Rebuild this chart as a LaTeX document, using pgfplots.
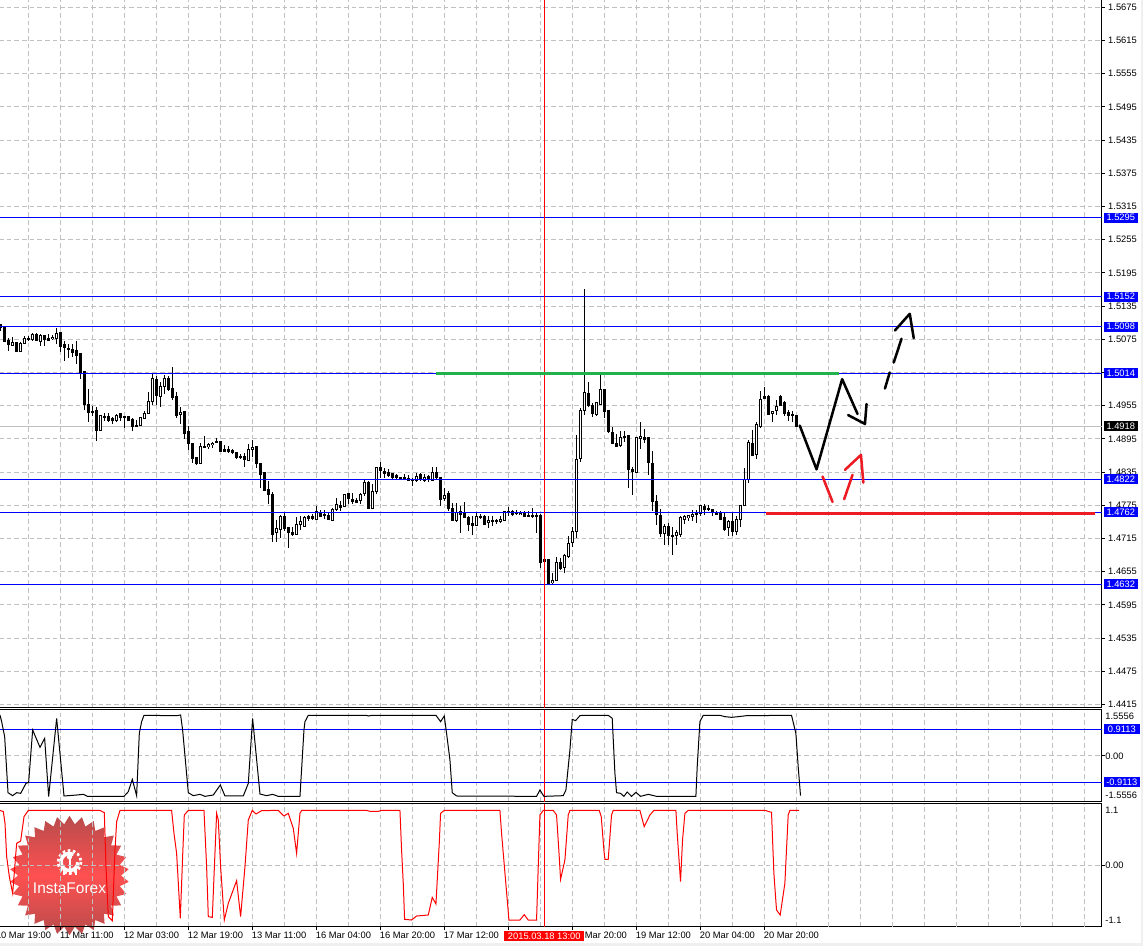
\documentclass[border=0pt]{standalone}
\usepackage{fontspec}
\setmainfont{Liberation Sans}
\usepackage{pgfplots}
\usepackage{pgfplotstable}
\usetikzlibrary{shapes.geometric}
\pgfplotsset{compat=1.18}

\definecolor{gridc}{HTML}{C0C0C0}
\definecolor{handred}{HTML}{ED1C24}
\definecolor{handgreen}{HTML}{22B14C}
\definecolor{starmid}{HTML}{FF5050}
\definecolor{stardark}{HTML}{B84C4C}

% k open high low close, price panel
\pgfplotstableread{
k o h l c
0 1.5101 1.5102 1.5090 1.5097
1 1.5097 1.5099 1.5071 1.5071
2 1.5073 1.5077 1.5053 1.5066
4 1.5069 1.5070 1.5053 1.5053
9 1.5084 1.5087 1.5071 1.5073
11 1.5081 1.5083 1.5062 1.5075
12 1.5076 1.5084 1.5071 1.5073
15 1.5087 1.5087 1.5052 1.5062
16 1.5065 1.5071 1.5035 1.5061
17 1.5059 1.5067 1.5042 1.5057
18 1.5056 1.5067 1.5043 1.5052
19 1.5055 1.5071 1.5030 1.5046
20 1.5049 1.5049 1.5004 1.5014
21 1.5016 1.5016 1.4948 1.4957
22 1.4958 1.4985 1.4926 1.4943
23 1.4945 1.4954 1.4937 1.4943
24 1.4946 1.4953 1.4892 1.4911
26 1.4935 1.4942 1.4928 1.4934
27 1.4935 1.4942 1.4926 1.4928
28 1.4931 1.4935 1.4922 1.4929
30 1.4940 1.4940 1.4928 1.4934
31 1.4935 1.4935 1.4915 1.4933
32 1.4935 1.4935 1.4928 1.4928
33 1.4931 1.4932 1.4910 1.4917
34 1.4920 1.4930 1.4917 1.4917
39 1.5003 1.5009 1.4957 1.4974
42 1.5004 1.5008 1.4981 1.4984
43 1.4986 1.5025 1.4965 1.4969
44 1.4972 1.4979 1.4932 1.4938
46 1.4944 1.4945 1.4894 1.4904
47 1.4908 1.4919 1.4875 1.4886
48 1.4886 1.4886 1.4851 1.4859
49 1.4862 1.4863 1.4848 1.4850
51 1.4882 1.4900 1.4879 1.4879
54 1.4891 1.4897 1.4888 1.4888
55 1.4891 1.4891 1.4873 1.4873
56 1.4876 1.4884 1.4871 1.4873
57 1.4876 1.4882 1.4869 1.4872
58 1.4874 1.4876 1.4868 1.4870
59 1.4870 1.4871 1.4859 1.4861
60 1.4864 1.4868 1.4859 1.4861
61 1.4864 1.4869 1.4845 1.4857
64 1.4881 1.4881 1.4843 1.4851
65 1.4851 1.4851 1.4807 1.4830
66 1.4834 1.4834 1.4800 1.4801
67 1.4803 1.4818 1.4777 1.4794
68 1.4794 1.4799 1.4709 1.4723
71 1.4755 1.4762 1.4729 1.4734
72 1.4735 1.4736 1.4698 1.4725
73 1.4726 1.4736 1.4720 1.4722
77 1.4755 1.4757 1.4747 1.4751
78 1.4755 1.4759 1.4748 1.4752
80 1.4761 1.4767 1.4754 1.4755
81 1.4759 1.4767 1.4751 1.4756
82 1.4757 1.4762 1.4750 1.4750
85 1.4774 1.4783 1.4764 1.4771
87 1.4796 1.4797 1.4777 1.4787
88 1.4786 1.4797 1.4778 1.4781
89 1.4784 1.4789 1.4779 1.4781
92 1.4816 1.4818 1.4769 1.4769
95 1.4844 1.4854 1.4825 1.4838
96 1.4837 1.4842 1.4825 1.4832
97 1.4835 1.4841 1.4826 1.4829
98 1.4832 1.4834 1.4822 1.4826
99 1.4829 1.4832 1.4822 1.4825
100 1.4825 1.4826 1.4821 1.4822
101 1.4826 1.4831 1.4821 1.4822
102 1.4824 1.4829 1.4819 1.4820
103 1.4822 1.4824 1.4810 1.4820
105 1.4830 1.4833 1.4819 1.4822
107 1.4827 1.4830 1.4817 1.4822
109 1.4835 1.4844 1.4820 1.4825
110 1.4825 1.4826 1.4773 1.4785
112 1.4796 1.4800 1.4764 1.4769
113 1.4770 1.4779 1.4748 1.4748
115 1.4764 1.4774 1.4725 1.4759
116 1.4762 1.4781 1.4752 1.4752
117 1.4753 1.4755 1.4729 1.4740
118 1.4743 1.4755 1.4721 1.4739
120 1.4754 1.4759 1.4750 1.4753
121 1.4755 1.4757 1.4739 1.4741
123 1.4747 1.4755 1.4738 1.4745
124 1.4747 1.4751 1.4742 1.4745
127 1.4763 1.4771 1.4756 1.4762
128 1.4764 1.4767 1.4756 1.4758
129 1.4762 1.4767 1.4757 1.4760
131 1.4761 1.4764 1.4753 1.4754
132 1.4756 1.4764 1.4753 1.4755
133 1.4757 1.4770 1.4752 1.4755
134 1.4756 1.4761 1.4725 1.4755
135 1.4757 1.4760 1.4661 1.4671
136 1.4677 1.4677 1.4673 1.4673
137 1.4677 1.4678 1.4632 1.4634
140 1.4672 1.4680 1.4658 1.4660
147 1.4978 1.4998 1.4953 1.4956
148 1.4956 1.4959 1.4935 1.4941
151 1.4984 1.4985 1.4933 1.4944
152 1.4947 1.4947 1.4906 1.4908
153 1.4907 1.4917 1.4887 1.4887
154 1.4887 1.4904 1.4881 1.4881
156 1.4900 1.4909 1.4889 1.4898
157 1.4901 1.4901 1.4807 1.4839
158 1.4840 1.4845 1.4793 1.4836
161 1.4898 1.4913 1.4888 1.4893
162 1.4897 1.4897 1.4830 1.4852
163 1.4851 1.4873 1.4765 1.4781
164 1.4782 1.4794 1.4740 1.4758
165 1.4757 1.4769 1.4717 1.4724
167 1.4737 1.4743 1.4703 1.4720
168 1.4721 1.4736 1.4686 1.4718
174 1.4760 1.4766 1.4743 1.4758
176 1.4772 1.4777 1.4757 1.4767
177 1.4770 1.4776 1.4764 1.4767
178 1.4767 1.4769 1.4756 1.4762
179 1.4761 1.4764 1.4759 1.4759
180 1.4761 1.4765 1.4748 1.4750
181 1.4753 1.4763 1.4729 1.4732
183 1.4746 1.4763 1.4719 1.4727
188 1.4887 1.4911 1.4865 1.4865
191 1.4971 1.4988 1.4968 1.4968
192 1.4972 1.4974 1.4939 1.4939
195 1.4972 1.4974 1.4956 1.4956
196 1.4960 1.4964 1.4937 1.4940
197 1.4943 1.4948 1.4927 1.4938
198 1.4939 1.4945 1.4925 1.4938
199 1.4938 1.4938 1.4917 1.4917
}\bears

\pgfplotstableread{
k o h l c
3 1.5064 1.5079 1.5062 1.5070
5 1.5053 1.5070 1.5053 1.5068
6 1.5068 1.5081 1.5067 1.5077
7 1.5075 1.5081 1.5071 1.5076
8 1.5074 1.5087 1.5072 1.5084
10 1.5071 1.5084 1.5062 1.5081
13 1.5076 1.5083 1.5074 1.5079
14 1.5077 1.5096 1.5067 1.5085
25 1.4910 1.4938 1.4910 1.4937
29 1.4928 1.4940 1.4925 1.4938
35 1.4919 1.4935 1.4919 1.4933
36 1.4931 1.4946 1.4931 1.4940
37 1.4941 1.4980 1.4941 1.4963
38 1.4963 1.5013 1.4957 1.5005
40 1.4972 1.4997 1.4953 1.4989
41 1.4990 1.5011 1.4977 1.5005
45 1.4939 1.4952 1.4922 1.4943
50 1.4850 1.4887 1.4850 1.4882
52 1.4881 1.4888 1.4876 1.4885
53 1.4885 1.4890 1.4878 1.4887
62 1.4856 1.4885 1.4856 1.4876
63 1.4876 1.4893 1.4863 1.4880
69 1.4725 1.4748 1.4709 1.4733
70 1.4731 1.4757 1.4716 1.4754
74 1.4723 1.4754 1.4721 1.4740
75 1.4740 1.4755 1.4730 1.4745
76 1.4736 1.4755 1.4736 1.4753
79 1.4750 1.4773 1.4750 1.4764
83 1.4748 1.4770 1.4747 1.4768
84 1.4767 1.4788 1.4764 1.4777
86 1.4773 1.4796 1.4773 1.4794
90 1.4783 1.4798 1.4777 1.4795
91 1.4796 1.4822 1.4791 1.4817
93 1.4769 1.4814 1.4769 1.4799
94 1.4800 1.4845 1.4796 1.4844
104 1.4820 1.4833 1.4817 1.4828
106 1.4820 1.4831 1.4817 1.4826
108 1.4820 1.4845 1.4820 1.4835
111 1.4787 1.4807 1.4782 1.4793
114 1.4748 1.4779 1.4745 1.4762
119 1.4738 1.4761 1.4738 1.4755
122 1.4744 1.4755 1.4734 1.4748
125 1.4745 1.4755 1.4744 1.4750
126 1.4747 1.4765 1.4747 1.4764
130 1.4759 1.4764 1.4757 1.4761
138 1.4635 1.4652 1.4632 1.4639
139 1.4639 1.4681 1.4639 1.4672
141 1.4662 1.4687 1.4653 1.4685
142 1.4682 1.4719 1.4681 1.4706
143 1.4707 1.4735 1.4700 1.4728
144 1.4727 1.4902 1.4715 1.4858
145 1.4859 1.4950 1.4853 1.4947
146 1.4947 1.5166 1.4939 1.4978
149 1.4939 1.4962 1.4938 1.4960
150 1.4958 1.5011 1.4956 1.4984
155 1.4883 1.4909 1.4881 1.4898
159 1.4834 1.4899 1.4834 1.4898
160 1.4895 1.4926 1.4877 1.4900
166 1.4724 1.4742 1.4703 1.4736
169 1.4720 1.4730 1.4703 1.4726
170 1.4723 1.4756 1.4717 1.4753
171 1.4750 1.4757 1.4742 1.4755
172 1.4753 1.4758 1.4747 1.4756
173 1.4755 1.4767 1.4747 1.4759
175 1.4761 1.4775 1.4755 1.4774
182 1.4735 1.4748 1.4720 1.4746
184 1.4727 1.4755 1.4721 1.4750
185 1.4750 1.4774 1.4736 1.4774
186 1.4774 1.4842 1.4774 1.4822
187 1.4822 1.4893 1.4816 1.4889
189 1.4866 1.4926 1.4859 1.4921
190 1.4918 1.4982 1.4914 1.4967
193 1.4941 1.4946 1.4926 1.4945
194 1.4947 1.4965 1.4939 1.4953
}\bulls

\tikzset{
  tag/.style={anchor=west,fill=blue,text=white,font=\fontsize{7}{8}\selectfont,
    inner sep=0pt,minimum height=7.5pt,minimum width=25.5pt,xshift=1.5pt},
  stroke/.style={line width=1.9pt,line join=round,line cap=round},
  lvl/.style={color=blue,line width=0.75pt},
  xhair/.style={color=red,line width=0.75pt},
}
\pgfplotsset{
  mt4/.style={
    scale only axis, width=826.875pt, clip=false,
    xmin=-0.325, xmax=275.35,
    axis line style={black,line width=0.75pt},
    tick style={black,line width=0.75pt},
    tick align=outside, major tick length=2.25pt,
    xtick pos=bottom, ytick pos=right, yticklabel pos=right,
    grid style={gridc,line width=0.75pt,dash pattern=on 3.5pt off 2.25pt},
    xmajorgrids, ymajorgrids, scaled ticks=false,
    tick label style={font=\fontsize{7}{8}\selectfont},
    yticklabel style={anchor=west,inner sep=0pt},
  },
  wick/.style={draw=none,mark=none,forget plot,error bars/.cd,y dir=both,y explicit,error mark=none,
    error bar style={solid,black,line width=0.75pt}},
  body/.style={draw=none,mark=none,forget plot,error bars/.cd,y dir=both,y explicit,error mark=none,
    error bar style={solid,black,line width=2.25pt}},
  hole/.style={draw=none,mark=none,forget plot,error bars/.cd,y dir=both,y explicit,error mark=none,
    error bar style={solid,white,line width=0.75pt}},
}

\begin{document}
\begin{tikzpicture}[x=0.75pt,y=-0.75pt]
\fill[white,use as bounding box] (0,0) rectangle (1143,946);
\fill[black!6] (1141,0) rectangle (1143,946);
\fill[black!6] (0,943) rectangle (1143,946);

% watermark goes under the panels, grid and lines show through
\node[star,star points=30,star point ratio=1.16,minimum size=89.5pt,inner sep=0pt,
  top color=stardark,bottom color=stardark,middle color=starmid] at (69.5,875.5) {};
\draw[white,line width=2.6pt] (69.5,862) ++(-62:8.5) arc[start angle=-62,delta angle=-296,radius=8.5];
\draw[white,line width=2pt,dash pattern=on 2pt off 1.9pt] (69.5,862) circle[radius=11.5];
\fill[white] (69.5,857) circle[radius=2.6];
\draw[white,line width=1.5pt] (69.5,859) -- (69.5,875);
\draw[white,line width=1.5pt] (63.5,868) -- (63.5,875);
\draw[white,line width=1.5pt] (75.5,868) -- (75.5,875);
\node[white,inner sep=0pt,font=\fontsize{11.6}{13}\selectfont] at (69.5,888.5) {InstaForex};

% price panel
\begin{axis}[mt4, at={(-0.75pt,0.75pt)}, anchor=north west, height=531.375pt,
  ymin=1.44095, ymax=1.56900,
  xtick={7,15,...,271}, xticklabels={}, xtick style={draw=none},
  ytick={1.4415,1.4475,1.4535,1.4595,1.4655,1.4715,1.4775,1.4835,1.4895,1.4955,1.5015,1.5075,1.5135,1.5195,1.5255,1.5315,1.5375,1.5435,1.5495,1.5555,1.5615,1.5675},
  yticklabel style={xshift=2.6pt,/pgf/number format/.cd,fixed,fixed zerofill,precision=4,assume math mode=true},
]
\addplot[gridc,line width=0.75pt] coordinates {(-0.325,1.4918)(275.35,1.4918)};
\addplot[wick] table[x=k,y=o,y error plus expr=\thisrow{h}-\thisrow{o},y error minus expr=\thisrow{o}-\thisrow{l}] {\bears};
\addplot[wick] table[x=k,y=o,y error plus expr=\thisrow{h}-\thisrow{o},y error minus expr=\thisrow{o}-\thisrow{l}] {\bulls};
\addplot[body] table[x=k,y expr=(\thisrow{o}+\thisrow{c})/2,y error expr=abs(\thisrow{o}-\thisrow{c})/2+0.00009] {\bears};
\addplot[body] table[x=k,y expr=(\thisrow{o}+\thisrow{c})/2,y error expr=abs(\thisrow{o}-\thisrow{c})/2+0.00009] {\bulls};
\addplot[hole] table[x=k,y expr=(\thisrow{o}+\thisrow{c})/2,y error expr={max(abs(\thisrow{o}-\thisrow{c})/2-0.00009,0)}] {\bulls};
\addplot[lvl] coordinates {(-0.325,1.5295)(275.35,1.5295)};
\addplot[lvl] coordinates {(-0.325,1.5152)(275.35,1.5152)};
\addplot[lvl] coordinates {(-0.325,1.5098)(275.35,1.5098)};
\addplot[lvl] coordinates {(-0.325,1.5014)(275.35,1.5014)};
\addplot[lvl] coordinates {(-0.325,1.4822)(275.35,1.4822)};
\addplot[lvl] coordinates {(-0.325,1.4762)(275.35,1.4762)};
\addplot[lvl] coordinates {(-0.325,1.4632)(275.35,1.4632)};
\addplot[xhair] coordinates {(136.05,1.44095)(136.05,1.56900)};
% drawn levels and hand-drawn scenario arrows
\addplot[handgreen,line width=2.25pt] coordinates {(108.9,1.5014)(209.7,1.5014)};
\addplot[handred,line width=2.25pt] coordinates {(191.4,1.4760)(273.7,1.4760)};
\addplot[black,stroke] coordinates {(199.9,1.4919)(204.1,1.4840)(210.5,1.5003)(214.35,1.4940)};
\addplot[black,stroke] coordinates {(212,1.4938)(216.2,1.4922)(216.6,1.4958)};
\addplot[black,stroke] coordinates {(221.2,1.4986)(222.4,1.5015)};
\addplot[black,stroke] coordinates {(223.4,1.5033)(225.35,1.5076)};
\addplot[black,stroke] coordinates {(223.7,1.5091)(227.4,1.5121)(228.4,1.5077)};
\addplot[handred,stroke] coordinates {(205.6,1.4827)(208.1,1.4781)};
\addplot[handred,stroke] coordinates {(211,1.4786)(213.1,1.4830)};
\addplot[handred,stroke] coordinates {(211.2,1.4839)(215.2,1.4866)(215.8,1.4816)};
\node[tag] at (axis cs:275.35,1.5295) {1.5295};
\node[tag] at (axis cs:275.35,1.5152) {1.5152};
\node[tag] at (axis cs:275.35,1.5098) {1.5098};
\node[tag] at (axis cs:275.35,1.5014) {1.5014};
\node[tag,fill=black] at (axis cs:275.35,1.4918) {1.4918};
\node[tag] at (axis cs:275.35,1.4822) {1.4822};
\node[tag] at (axis cs:275.35,1.4762) {1.4762};
\node[tag] at (axis cs:275.35,1.4632) {1.4632};
\end{axis}

% black indicator panel
\begin{axis}[mt4, at={(-0.75pt,-532.125pt)}, anchor=north west, height=69pt,
  ymin=-1.5715, ymax=1.592,
  xtick={7,15,...,271}, xticklabels={}, xtick style={draw=none},
  ytick={0}, yticklabels={0.00},
  extra y ticks={-1.345,1.345}, extra y tick labels={-1.5556,1.5556},
  extra y tick style={grid=none,major tick length=0pt,yticklabel style={xshift=2.25pt}},
  yticklabel style={xshift=0.5pt},
]
\addplot[lvl] coordinates {(-0.325,0.9113)(275.35,0.9113)};
\addplot[lvl] coordinates {(-0.325,-0.9113)(275.35,-0.9113)};
\addplot[xhair] coordinates {(136.05,-1.5715)(136.05,1.592)};
\addplot[black,line width=0.75pt] coordinates {
(-.08,1.403)(.34,1.174)(1.09,.658)(1.93,-1.268)(3.09,-1.371)(4.09,-1.268)(5.09,-1.291)(6.43,-.947)(7.09,-.912)(8.09,.887)(9.93,.291)(11.09,.601)(12.09,-1.405)(14.09,1.288)(15.93,-1.382)(19.09,-1.348)(20.76,-1.325)(21.76,-1.394)(30.93,-1.394)(32.01,-1.233)(33.01,-.809)(34.09,-1.371)(34.76,.773)(35.34,1.174)(35.93,1.392)(44.09,1.380)(45.09,1.403)(45.59,.887)(47.01,-1.268)(48.26,-1.371)(49.93,-1.325)(51.18,-1.394)(53.26,-1.348)(55.01,-1.004)(56.18,-1.382)(60.76,-1.382)(62.01,-.947)(63.09,1.288)(64.93,-1.314)(66.59,-1.371)(68.09,-1.325)(69.51,-1.394)(74.93,-1.394)(75.93,.887)(76.18,1.174)(77.01,1.392)(91.59,1.392)(92.01,1.369)(92.84,1.392)(99.93,1.392)(108.93,1.392)(110.09,1.174)(111.01,1.369)(111.59,.773)(112.43,-.144)(113.01,-1.268)(114.09,-1.382)(134.09,-1.394)(134.93,-1.176)(135.93,-1.394)(140.76,-1.371)(141.43,-1.176)(142.43,.199)(143.01,1.254)(143.84,1.208)(144.93,1.380)(145.59,1.392)(152.01,1.392)(153.01,1.288)(153.68,-.603)(154.09,-1.268)(155.09,-1.291)(155.93,-1.394)(156.76,-1.245)(157.84,-1.394)(158.93,-1.256)(160.09,-1.394)(162.01,-1.325)(164.09,-1.394)(173.93,-1.394)(174.26,-.374)(174.93,1.174)(175.76,1.392)(179.93,1.392)(181.18,1.346)(182.84,1.323)(184.51,1.346)(186.59,1.380)(197.84,1.392)(198.93,.773)(199.51,-.374)(200.09,-1.371)};
\node[tag,minimum width=27pt] at (axis cs:275.35,0.9113) {0.9113};
\node[tag,minimum width=27pt] at (axis cs:275.35,-0.9113) {-0.9113};
\end{axis}

% red indicator panel, carries the time axis
\begin{axis}[mt4, at={(-0.75pt,-602.625pt)}, anchor=north west, height=92.25pt,
  ymin=-1.224, ymax=1.236,
  xtick={15,31,47,63,79,95,111,127,143,159,175,191},
  xticklabels={11 Mar 11:00,12 Mar 03:00,12 Mar 19:00,13 Mar 11:00,16 Mar 04:00,16 Mar 20:00,17 Mar 12:00,{},\phantom{18 }Mar 20:00,19 Mar 12:00,20 Mar 04:00,20 Mar 20:00},
  xticklabel style={anchor=north west,inner sep=0pt,xshift=-0.4pt,yshift=-2pt},
  minor xtick={7,23,39,55,71,87,103,119,135,151,167,183,199,215,231,247,263},
  extra x ticks={207,223,239,255,271}, extra x tick labels={},
  extra x tick style={major tick length=0pt},
  minor tick length=0pt, xminorgrids,
  minor grid style={gridc,line width=0.75pt,dash pattern=on 3.5pt off 2.25pt},
  ytick={0}, yticklabels={0.00},
  extra y ticks={-1.1,1.1}, extra y tick labels={-1.1,1.1},
  extra y tick style={grid=none,major tick length=0pt,yticklabel style={xshift=2.25pt}},
  yticklabel style={xshift=0.5pt},
]
\addplot[xhair] coordinates {(136.05,-1.224)(136.05,1.236)};
\addplot[red,line width=0.75pt] coordinates {
(-.08,1.099)(.76,1.073)(1.18,.839)(1.59,.173)(2.26,-.227)(3.09,-.561)(4.09,.439)(5.09,.486)(5.93,.973)(7.01,1.099)(24.93,1.099)(26.01,1.053)(26.43,-.027)(27.01,-1.027)(28.01,-1.107)(28.68,.306)(29.09,.873)(29.93,1.099)(42.84,1.099)(43.43,.639)(44.09,.239)(45.01,-1.061)(45.59,.173)(46.01,1.006)(47.01,1.099)(50.93,1.099)(51.59,-.027)(52.01,-1.027)(53.01,-1.041)(54.09,1.039)(54.51,.906)(55.09,-.027)(56.01,-1.094)(57.01,-.761)(59.09,-.307)(60.09,-1.027)(61.18,-.027)(62.01,.906)(63.01,1.099)(63.93,1.026)(65.34,1.093)(69.51,1.099)(70.93,.986)(72.01,1.039)(73.26,.739)(74.09,.239)(74.93,1.039)(75.34,1.099)(91.59,1.099)(92.43,1.079)(94.51,1.079)(95.34,1.099)(99.93,1.099)(100.34,.306)(100.76,-.361)(101.09,-1.081)(102.84,-1.094)(104.09,-1.014)(107.01,-.994)(108.01,-.641)(108.93,-.774)(109.76,.439)(110.09,1.039)(111.01,1.099)(124.93,1.099)(125.34,.639)(126.76,-.694)(127.18,-1.094)(129.93,-1.094)(131.01,-.987)(132.01,-1.094)(134.09,-1.094)(134.51,-.027)(134.93,1.006)(135.76,1.099)(138.26,1.099)(139.09,1.006)(139.76,.173)(140.09,-.281)(141.18,.106)(142.01,1.006)(142.43,1.099)(149.76,1.099)(150.26,.973)(150.93,.306)(151.18,.119)(152.01,.119)(152.84,1.006)(153.26,1.099)(159.93,1.099)(161.01,.773)(162.43,1.006)(163.43,1.099)(168.93,1.099)(169.26,.639)(170.09,-.327)(170.59,.506)(171.18,1.039)(172.01,1.099)(191.18,1.099)(192.84,1.059)(193.43,-.161)(194.09,-.894)(195.01,-.994)(196.18,-.361)(197.01,1.006)(197.43,1.099)(199.76,1.099)};
% the first time label starts left of the window
\node[anchor=north west,inner sep=0pt,xshift=-0.4pt,yshift=-4.25pt,font=\fontsize{7}{8}\selectfont] at (axis cs:-1,-1.224) {10 Mar 19:00};
\end{axis}

% crosshair time on the axis
\node[fill=red,text=white,inner sep=0pt,minimum width=60pt,minimum height=7.5pt,anchor=west,
  font=\fontsize{7}{8}\selectfont] at (504,935.8) {2015.03.18 13:00};
\end{tikzpicture}
\end{document}
